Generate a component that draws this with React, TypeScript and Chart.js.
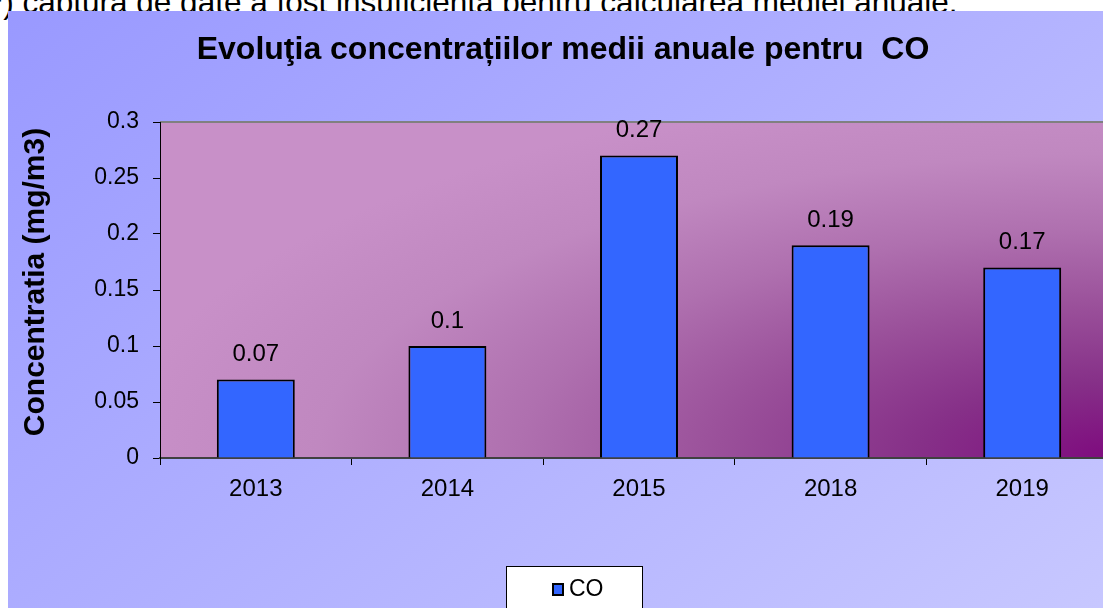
import React, { useEffect, useRef } from "react";
import { Chart, registerables } from "chart.js";

Chart.register(...registerables);

const categories = ["2013", "2014", "2015", "2018", "2019"];
const coValues = [0.07, 0.1, 0.27, 0.19, 0.17];
const yTickValues = [0, 0.05, 0.1, 0.15, 0.2, 0.25, 0.3];
const seriesLabel = "CO";
const titleText = "Evoluţia concentrațiilor medii anuale pentru  CO";
const yAxisTitle = "Concentratia (mg/m3)";
const noteText = "*) captura de date a fost insuficienta pentru calcularea mediei anuale.";

const FONT = "'Liberation Sans', Arial, sans-serif";
const CW = 1112;
const CH = 597;

const backgroundPlugin = {
  id: "bgPlugin",
  beforeDraw(chart: any) {
    const { ctx, chartArea } = chart;
    ctx.save();
    const g = ctx.createLinearGradient(0, 0, 862, 1116);
    g.addColorStop(0, "#9999FF");
    g.addColorStop(1, "#D2D2FF");
    ctx.fillStyle = g;
    ctx.fillRect(0, 0, chart.width, chart.height);
    const { left, top, right, bottom } = chartArea;
    ctx.beginPath();
    ctx.rect(left, top, right - left, bottom - top);
    ctx.clip();
    ctx.translate(right, bottom);
    const sx = 1000 / 380;
    ctx.scale(sx, 1);
    const rg = ctx.createRadialGradient(0, 0, 0, 0, 0, 380);
    rg.addColorStop(0, "#7E0A7E");
    rg.addColorStop(0.2, "#863088");
    rg.addColorStop(0.4, "#9A509A");
    rg.addColorStop(0.6, "#AF70AF");
    rg.addColorStop(0.8, "#C088C0");
    rg.addColorStop(1, "#C890C8");
    ctx.fillStyle = rg;
    ctx.fillRect((left - right) / sx, top - bottom, (right - left) / sx, bottom - top);
    ctx.restore();
    ctx.save();
    ctx.strokeStyle = "#808080";
    ctx.lineWidth = 2;
    ctx.beginPath();
    ctx.moveTo(left, top);
    ctx.lineTo(right, top);
    ctx.lineTo(right, bottom);
    ctx.stroke();
    ctx.restore();
  },
};

const labelPlugin = {
  id: "valueLabels",
  afterDatasetsDraw(chart: any) {
    const { ctx } = chart;
    const meta = chart.getDatasetMeta(0);
    const data = chart.data.datasets[0].data;
    ctx.save();
    ctx.font = `24px ${FONT}`;
    ctx.fillStyle = "#000";
    ctx.textAlign = "center";
    ctx.textBaseline = "middle";
    meta.data.forEach((bar: any, i: number) => {
      ctx.fillText(String(data[i]), bar.x, bar.y - 25);
    });
    ctx.restore();
  },
};

const axisTitlePlugin = {
  id: "yAxisTitle",
  afterDraw(chart: any) {
    const { ctx } = chart;
    ctx.save();
    ctx.translate(28, 271);
    ctx.rotate(-Math.PI / 2);
    ctx.font = `bold 30px ${FONT}`;
    ctx.fillStyle = "#000";
    ctx.textAlign = "center";
    ctx.textBaseline = "middle";
    ctx.fillText(yAxisTitle, 0, 0);
    ctx.restore();
  },
};

const legendPlugin = {
  id: "boxLegend",
  afterDraw(chart: any) {
    const { ctx } = chart;
    const ds = chart.data.datasets[0];
    ctx.save();
    ctx.fillStyle = "#FFFFFF";
    ctx.fillRect(498, 555, 136, 60);
    ctx.strokeStyle = "#000";
    ctx.lineWidth = 1;
    ctx.strokeRect(498.5, 555.5, 136, 60);
    ctx.fillStyle = ds.backgroundColor;
    ctx.fillRect(545, 573, 10, 11);
    ctx.lineWidth = 2;
    ctx.strokeStyle = "#000";
    ctx.strokeRect(545, 573, 10, 11);
    ctx.fillStyle = "#000";
    ctx.font = `23px ${FONT}`;
    ctx.textAlign = "left";
    ctx.textBaseline = "middle";
    ctx.fillText(ds.label, 561, 579);
    ctx.restore();
  },
};

export default function App() {
  const ref = useRef<HTMLCanvasElement | null>(null);
  useEffect(() => {
    if (!ref.current) return;
    Chart.defaults.font.family = FONT;
    const chart = new Chart(ref.current, {
      type: "bar",
      data: {
        labels: categories,
        datasets: [
          {
            label: seriesLabel,
            data: coValues,
            backgroundColor: "#3366FF",
            borderColor: "#000000",
            borderWidth: 2,
            barPercentage: 0.407,
            categoryPercentage: 1,
          },
        ],
      },
      options: {
        animation: false,
        responsive: false,
        maintainAspectRatio: false,
        devicePixelRatio: 1,
        layout: { padding: { left: 0, right: 2, top: 0, bottom: 0 } },
        plugins: {
          legend: { display: false },
          tooltip: { enabled: false },
          title: {
            display: true,
            text: titleText,
            color: "#000",
            font: { size: 32, weight: "bold", family: FONT, lineHeight: 1.2 },
            padding: { top: 20, bottom: 52.6 },
          },
        },
        scales: {
          x: {
            offset: true,
            grid: {
              display: true,
              drawOnChartArea: false,
              offset: true,
              tickLength: 7,
              color: "#000",
            },
            border: { display: true, color: "#404040", width: 2 },
            ticks: { color: "#000", font: { size: 24, family: FONT }, padding: 10, maxRotation: 0 },
            afterFit(scale: any) {
              scale.height = 150;
            },
          },
          y: {
            min: 0,
            max: 0.3,
            afterBuildTicks(scale: any) {
              scale.ticks = yTickValues.map((v) => ({ value: v }));
            },
            grid: {
              display: true,
              drawOnChartArea: false,
              tickLength: 7,
              color: "#000",
            },
            border: { display: true, color: "#000", width: 1 },
            ticks: {
              color: "#000",
              font: { size: 23, family: FONT },
              padding: 14,
              callback: (v: any) => String(v),
            },
            title: { display: false },
            afterFit(scale: any) {
              scale.width = 152;
            },
          },
        },
      },
      plugins: [backgroundPlugin, labelPlugin, axisTitlePlugin, legendPlugin],
    });
    return () => chart.destroy();
  }, []);

  return (
    <div
      style={{
        position: "fixed",
        left: 0,
        top: 0,
        width: 1103,
        height: 608,
        overflow: "hidden",
        background: "#fff",
      }}
    >
      <div
        style={{
          position: "absolute",
          left: -9,
          top: -16,
          whiteSpace: "nowrap",
          fontFamily: FONT,
          fontSize: 31.5,
          color: "#000",
        }}
      >
        {noteText}
      </div>
      <canvas
        ref={ref}
        width={CW}
        height={CH}
        style={{ position: "absolute", left: 8, top: 11, width: CW, height: CH }}
      />
    </div>
  );
}
